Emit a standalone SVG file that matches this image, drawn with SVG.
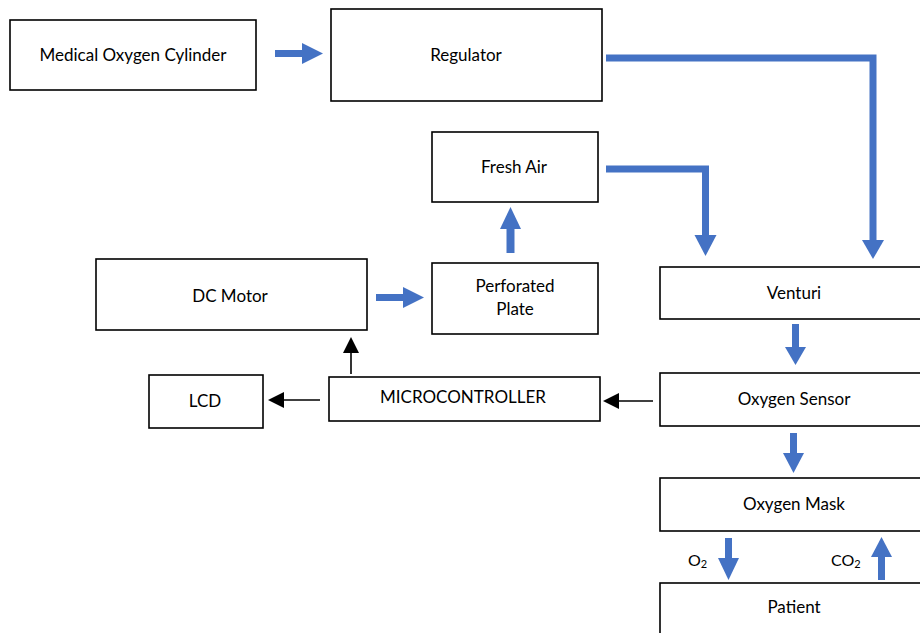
<svg xmlns="http://www.w3.org/2000/svg" width="920" height="633" viewBox="0 0 920 633">
<defs>
<style>
.box{fill:#fff;stroke:#000;stroke-width:1.6}
.t{font-family:Lato,"Liberation Sans",sans-serif;font-size:17px;fill:#000;text-anchor:middle}
.bl{fill:none;stroke:#4472C4;stroke-width:7;stroke-linejoin:miter;stroke-linecap:butt}
.bh{fill:#4472C4}
.kl{fill:none;stroke:#000;stroke-width:1.6}
.kh{fill:#000}
</style>
</defs>
<rect width="920" height="633" fill="#fff"/>
<g id="cylinder"><rect class="box" x="10" y="20" width="246" height="70"/><text class="t" x="133" y="61">Medical Oxygen Cylinder</text></g>
<g id="regulator"><rect class="box" x="331" y="9" width="271" height="92"/><text class="t" x="466" y="61">Regulator</text></g>
<g id="fresh-air"><rect class="box" x="432" y="132" width="166" height="70"/><text class="t" x="514" y="173">Fresh Air</text></g>
<g id="dc-motor"><rect class="box" x="96" y="259" width="271" height="71"/><text class="t" x="230" y="302">DC Motor</text></g>
<g id="perforated-plate"><rect class="box" x="432" y="263" width="166" height="71"/><text class="t" x="515" y="292">Perforated</text><text class="t" x="515" y="315">Plate</text></g>
<g id="venturi"><rect class="box" x="660" y="267" width="270" height="52"/><text class="t" x="794" y="299">Venturi</text></g>
<g id="lcd"><rect class="box" x="149" y="375" width="114" height="53"/><text class="t" x="205" y="407">LCD</text></g>
<g id="microcontroller"><rect class="box" x="329" y="377" width="271" height="44"/><text class="t" x="463" y="403">MICROCONTROLLER</text></g>
<g id="oxygen-sensor"><rect class="box" x="660" y="373" width="270" height="53"/><text class="t" x="794" y="405">Oxygen Sensor</text></g>
<g id="oxygen-mask"><rect class="box" x="660" y="478" width="270" height="53"/><text class="t" x="794" y="510">Oxygen Mask</text></g>
<g id="patient"><rect class="box" x="660" y="583" width="270" height="60"/><text class="t" x="794" y="613">Patient</text></g>
<g id="connectors">
<path class="bl" d="M275,53.5H303"/><polygon class="bh" points="302,43 302,64 323,53.5"/>
<path class="bl" d="M606,58H873V241"/><polygon class="bh" points="862,240 884,240 873,259"/>
<path class="bl" d="M606,169H705.5V236"/><polygon class="bh" points="694.5,235 716.5,235 705.5,256"/>
<path class="bl" d="M510.5,253V228" style="stroke-width:8"/><polygon class="bh" points="500,229 521,229 510.5,207"/>
<path class="bl" d="M376,297.5H404"/><polygon class="bh" points="403,287 403,308 424,297.5"/>
<path class="bl" d="M795.5,324V348"/><polygon class="bh" points="785,347 806,347 795.5,365"/>
<path class="bl" d="M793.5,433V454"/><polygon class="bh" points="783,453 804,453 793.5,473"/>
<path class="bl" d="M728.5,538V559"/><polygon class="bh" points="718,558 739,558 728.5,580"/>
<path class="bl" d="M881.5,580V556"/><polygon class="bh" points="871,557 892,557 881.5,537"/>
<path class="kl" d="M320,400H283"/><polygon class="kh" points="284,392 284,408 268,400"/>
<path class="kl" d="M351,374V352"/><polygon class="kh" points="343,353 359,353 351,337"/>
<path class="kl" d="M653,401H618"/><polygon class="kh" points="619,393 619,409 603,401"/>
</g>
<g id="labels">
<text class="t" x="688" y="566" style="text-anchor:start;font-size:16px">O<tspan font-size="11" dy="2">2</tspan></text>
<text class="t" x="831" y="566" style="text-anchor:start;font-size:16px">CO<tspan font-size="11" dy="2">2</tspan></text>
</g>
</svg>
